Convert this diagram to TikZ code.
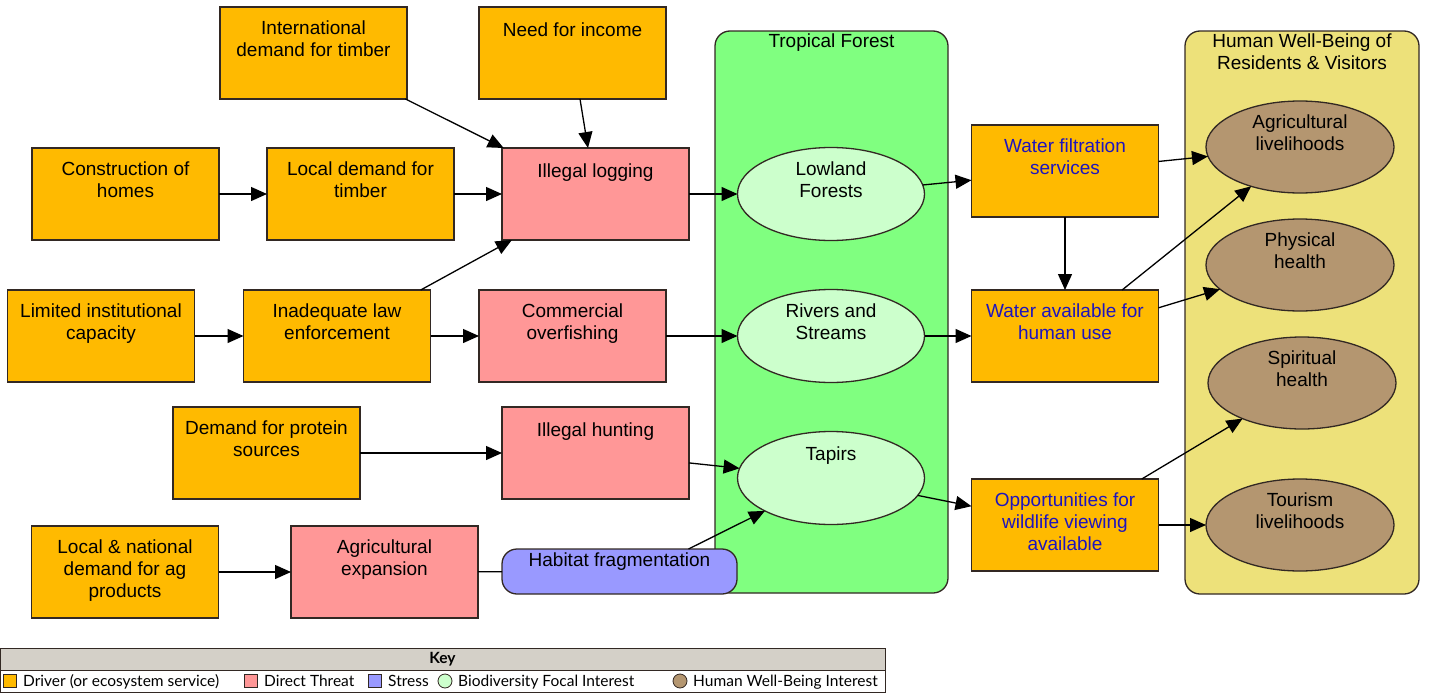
\documentclass[tikz,border=0pt]{standalone}
\usepackage{fontspec}
\setmainfont{Liberation Sans}
\newfontfamily\keyfont{Lato}
\usetikzlibrary{arrows.meta,shapes.geometric,calc}
\definecolor{cDriver}{RGB}{255,186,0}
\definecolor{cThreat}{RGB}{255,151,151}
\definecolor{cStress}{RGB}{153,153,255}
\definecolor{cBio}{RGB}{204,255,204}
\definecolor{cHwb}{RGB}{180,150,112}
\definecolor{cForest}{RGB}{128,255,128}
\definecolor{cHwbBox}{RGB}{237,225,122}
\definecolor{cSvc}{RGB}{30,20,190}
\definecolor{cKeyHead}{RGB}{212,208,200}
\definecolor{cBorder}{RGB}{50,40,35}
\begin{document}
\begin{tikzpicture}[x=1pt,y=-1pt,
  base/.style={draw=cBorder, line width=1.3pt, minimum width=187pt, minimum height=92pt, inner sep=0pt, outer sep=0pt},
  drv/.style={base, rectangle, fill=cDriver},
  thr/.style={base, rectangle, fill=cThreat},
  bio/.style={base, ellipse, fill=cBio, minimum height=93pt},
  hwb/.style={base, ellipse, fill=cHwb, minimum width=188pt},
  container/.style={draw=cBorder, line width=1.3pt, rounded corners=15pt, inner sep=0pt, outer sep=0pt},
  lbl/.style={anchor=north, yshift=-13.6pt, inner sep=0pt, align=center, font=\fontsize{19}{22}\selectfont, execute at begin node=\strut},
  svc/.style={lbl, text=cSvc},
  link/.style={line width=1.3pt, black},
  arr/.style={link, -{Triangle[length=16pt,width=14pt]}},
  keycell/.style={draw=cBorder, line width=1pt, minimum width=885pt, minimum height=22pt, inner sep=0pt},
  keytxt/.style={anchor=base west, inner sep=0pt, font=\keyfont\fontsize{15.5}{17}\selectfont},
  keysq/.style={draw=cBorder, line width=0.8pt, minimum width=13pt, minimum height=13pt, inner sep=0pt},
  keyci/.style={draw=cBorder, line width=0.8pt, circle, minimum size=14pt, inner sep=0pt}
]
\useasboundingbox (0,0) rectangle (1430,696);

% containers
\node[container, fill=cForest, minimum width=233pt, minimum height=562pt,
  label={[lbl, yshift=13pt]north:Tropical Forest}] (tf) at (831.5,312) {};
\node[container, fill=cHwbBox, minimum width=234pt, minimum height=563pt,
  label={[lbl, yshift=11pt]north:Human Well-Being of\\Residents \& Visitors}] (hwbbox) at (1302,312.5) {};

% drivers and threats
\node[drv, label={[lbl]north:International\\demand for timber}] (intl) at (313.5,53) {};
\node[drv, label={[lbl]north:Need for income}] (need) at (572.5,53) {};
\node[drv, label={[lbl]north:Construction of\\homes}] (constr) at (125.5,194) {};
\node[drv, label={[lbl]north:Local demand for\\timber}] (local) at (360.5,194) {};
\node[thr, label={[lbl]north:Illegal logging}] (logging) at (595.5,194) {};
\node[drv, label={[lbl]north:Limited institutional\\capacity}] (limited) at (101,336) {};
\node[drv, label={[lbl]north:Inadequate law\\enforcement}] (inad) at (337,336) {};
\node[thr, label={[lbl]north:Commercial\\overfishing}] (overfish) at (572.5,336) {};
\node[drv, label={[lbl]north:Demand for protein\\sources}] (protein) at (266.5,453) {};
\node[thr, label={[lbl]north:Illegal hunting}] (hunting) at (595.5,453) {};
\node[drv, label={[lbl]north:Local \& national\\demand for ag\\products}] (agdemand) at (125,572) {};
\node[thr, label={[lbl]north:Agricultural\\expansion}] (agexp) at (384.5,572) {};
\node[base, rounded corners=15pt, fill=cStress, minimum width=235pt, minimum height=45pt,
  label={[lbl, yshift=12pt]north:Habitat fragmentation}] (habitat) at (619.5,571.5) {};

% biodiversity
\node[bio, label={[lbl]north:Lowland\\Forests}] (lowland) at (831,194) {};
\node[bio, label={[lbl]north:Rivers and\\Streams}] (rivers) at (831,336) {};
\node[bio, label={[lbl]north:Tapirs}] (tapirs) at (831,478) {};

% services
\node[drv, label={[svc]north:Water filtration\\services}] (wfilt) at (1065,171) {};
\node[drv, label={[svc]north:Water available for\\human use}] (wavail) at (1065,336) {};
\node[drv, label={[svc]north:Opportunities for\\wildlife viewing\\available}] (opp) at (1065,525) {};

% well-being
\node[hwb, label={[lbl]north:Agricultural\\livelihoods}] (agri) at (1300,147) {};
\node[hwb, label={[lbl]north:Physical\\health}] (phys) at (1300,265) {};
\node[hwb, label={[lbl]north:Spiritual\\health}] (spirit) at (1302,383) {};
\node[hwb, label={[lbl]north:Tourism\\livelihoods}] (tourism) at (1300,525) {};

% connectors
\draw[arr] (intl) -- (logging);
\draw[arr] (need) -- (logging);
\draw[arr] (constr) -- (local);
\draw[arr] (local) -- (logging);
\draw[arr] (inad) -- (logging);
\draw[arr] (limited) -- (inad);
\draw[arr] (inad) -- (overfish);
\draw[arr] (protein) -- (hunting);
\draw[arr] (agdemand) -- (agexp);
\draw[link] (agexp) -- (habitat);
\draw[arr] (logging) -- (lowland);
\draw[arr] (overfish) -- (rivers);
\draw[arr] (hunting) -- (tapirs);
\coordinate (hfout) at ($(habitat.north)+(69,0)$);
\draw[arr] (hfout) -- (tapirs);
\draw[arr] (lowland) -- (wfilt);
\draw[arr] (rivers) -- (wavail);
\draw[arr] (tapirs) -- (opp);
\draw[arr] (wfilt) -- (wavail);
\draw[arr] (wfilt) -- (agri);
\draw[arr] (wavail) -- (agri);
\draw[arr] (wavail) -- (phys);
\draw[arr] (opp) -- (spirit);
\draw[arr] (opp) -- (tourism);

% key
\node[keycell, fill=cKeyHead, font=\keyfont\bfseries\fontsize{15.5}{17}\selectfont] (keyhead) at (442.5,659) {Key};
\node[keycell, fill=white] (keyrow) at (442.5,681) {};
\node[keysq, fill=cDriver] (k1) at (10,681) {};
\node[keytxt] (t1) at (23,686.5) {Driver (or ecosystem service)};
\node[keysq, fill=cThreat] (k2) at (251,681) {};
\node[keytxt] (t2) at (264,686.5) {Direct Threat};
\node[keysq, fill=cStress] (k3) at (375,681) {};
\node[keytxt] (t3) at (388,686.5) {Stress};
\node[keyci, fill=cBio] (k4) at (445,681) {};
\node[keytxt] (t4) at (458,686.5) {Biodiversity Focal Interest};
\node[keyci, fill=cHwb] (k5) at (680,681) {};
\node[keytxt] (t5) at (693,686.5) {Human Well-Being Interest};
\end{tikzpicture}
\end{document}
